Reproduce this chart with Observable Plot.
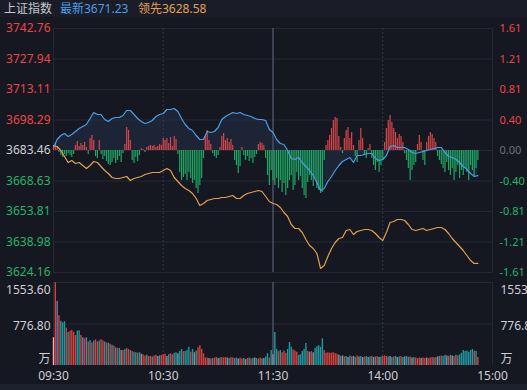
<!DOCTYPE html>
<html><head><meta charset="utf-8">
<script src="https://cdn.jsdelivr.net/npm/d3@7"></script>
<script src="https://cdn.jsdelivr.net/npm/@observablehq/plot@0.6"></script>
<style>
body{margin:0;background:#151821;}
#wrap{position:relative;width:527px;height:390px;background:#151821;overflow:hidden;font-family:"Noto Sans","Noto Sans CJK SC",sans-serif;}
#hdr{position:absolute;left:0;top:0;width:527px;height:17px;background:#1a1d28;font-size:12px;line-height:17px;white-space:nowrap;}
#hdr span{position:absolute;top:0;}
#main,#vol{position:absolute;left:0;}
#main{top:0;} #vol{top:275px;}
#foot{position:absolute;left:0;top:384px;width:527px;height:6px;background:#1d212d;}
</style></head>
<body><div id="wrap">
<div id="hdr"></div>
<div id="main"></div>
<div id="vol"></div>
<div id="foot"></div>
</div>
<script>
// ---- data ----
const indexName = "上证指数";
const latestLabel = "最新", leadLabel = "领先";
const latestValue = "3671.23", leadValue = "3628.58";
const prevClose = 3683.46;
const priceTicks = [3742.76, 3727.94, 3713.11, 3698.29, 3683.46, 3668.63, 3653.81, 3638.98, 3624.16];
const priceTickLabels = ["3742.76","3727.94","3713.11","3698.29","3683.46","3668.63","3653.81","3638.98","3624.16"];
const pctTickLabels = ["1.61","1.21","0.81","0.40","0.00","-0.40","-0.81","-1.21","-1.61"];
const volTicks = [1553.6, 776.8, 0];
const volTickLabels = ["1553.60", "776.80", "万"];
const timeTicks = [0, 60, 120, 180, 240];
const timeLabels = ["09:30", "10:30", "11:30", "14:00", "15:00"];

// price (blue) and lead (orange), every 2 minutes from 09:30
const price = [
3684.92,3688.80,3690.75,3691.72,3690.26,3691.24,3692.69,3694.15,3695.12,3696.10,
3699.01,3701.93,3700.96,3700.96,3698.53,3697.55,3699.01,3699.50,3699.50,3700.47,
3702.90,3702.90,3700.96,3699.01,3697.55,3696.58,3697.07,3698.04,3699.99,3700.96,
3701.44,3703.39,3703.39,3703.87,3702.42,3699.01,3696.10,3694.15,3693.18,3690.75,
3688.80,3688.80,3692.69,3692.21,3692.69,3694.64,3698.53,3699.99,3700.96,3701.93,
3701.44,3701.93,3700.96,3700.47,3699.99,3699.01,3698.53,3698.53,3698.04,3693.67,
3692.21,3688.80,3686.86,3686.37,3683.46,3679.57,3679.09,3680.06,3677.63,3675.68,
3673.74,3671.31,3667.91,3664.02,3664.99,3668.39,3670.82,3673.74,3676.17,3678.11,
3679.09,3680.06,3677.63,3681.03,3681.03,3681.52,3682.00,3682.00,3679.57,3678.60,
3679.09,3681.03,3685.40,3685.89,3684.92,3684.92,3684.92,3683.95,3682.49,3682.00,
3682.49,3682.97,3683.46,3683.95,3684.43,3684.92,3684.92,3682.49,3680.54,3680.06,
3679.09,3677.63,3675.68,3674.22,3672.28,3670.82,3671.23];
const lead = [
3685.89,3685.40,3683.46,3680.54,3677.63,3678.60,3677.14,3677.63,3676.17,3674.71,
3676.17,3678.11,3677.63,3675.68,3673.74,3672.28,3670.33,3669.85,3669.85,3670.33,
3670.82,3668.88,3669.85,3670.33,3670.82,3671.79,3672.28,3672.76,3672.76,3672.76,
3673.74,3674.71,3673.74,3670.33,3668.39,3666.44,3664.99,3664.02,3662.56,3660.13,
3656.72,3657.70,3659.15,3659.64,3660.13,3660.13,3660.61,3660.61,3661.10,3661.58,
3660.13,3660.13,3661.58,3662.56,3663.04,3663.53,3664.02,3663.53,3661.10,3658.67,
3657.70,3657.21,3655.75,3653.32,3651.38,3647.49,3645.54,3645.54,3643.60,3640.20,
3637.29,3635.82,3633.40,3626.10,3627.56,3631.93,3635.82,3638.74,3640.68,3641.17,
3644.57,3645.06,3642.63,3644.09,3644.57,3645.06,3645.06,3644.57,3643.11,3641.17,
3639.71,3643.60,3648.46,3648.95,3649.92,3649.92,3649.44,3647.49,3645.06,3644.57,
3645.06,3645.54,3644.57,3645.06,3645.54,3646.03,3646.03,3645.06,3643.11,3640.68,
3638.74,3636.80,3634.85,3632.42,3630.00,3628.53,3628.58];

// per-minute buy/sell strength bars (units)
const flow = [
4,7,3,-2,-5,-7,-4,-6,-3,-5,
-7,-4,5,9,4,7,5,8,3,-4,
12,15,10,-6,-8,10,-4,-9,-6,-11,
-14,-15,-12,-8,-13,-10,-6,-12,-3,6,
23,20,10,-10,-13,-7,-11,-5,2,1,
-2,3,4,5,4,5,3,4,6,5,
12,10,12,7,13,4,14,11,-4,-22,
-30,-27,-24,-30,-22,-28,-33,-30,-38,-43,
-35,-28,-8,14,20,10,6,-3,-6,-8,
-5,3,14,17,10,12,8,11,5,-10,
-15,-23,-16,3,-5,-10,-6,-11,-8,-13,
-7,-4,6,8,7,5,-8,-25,-35,-20,
-30,-35,-28,-38,-30,-42,-33,-45,-38,-30,
-25,-40,-35,-22,-30,-26,-38,-45,-48,-32,
-25,-30,-36,-28,-38,-40,-43,-42,-10,5,
10,15,22,30,33,32,14,3,-3,12,
20,23,12,18,5,-6,-12,10,22,12,
-4,-8,2,6,-8,-15,-20,-12,-22,-15,
-10,8,22,30,35,28,22,18,12,16,
14,8,-3,-10,-18,-30,-20,-15,-12,6,
15,8,-10,-15,8,14,18,16,12,8,
-6,-10,-14,-18,-22,-12,-20,-25,-18,-30,
-22,-15,-28,-20,-25,-18,-22,-30,-15,-20,
-26,-18,-10];
const flowScale = 0.486; // index points per flow unit

// per-minute volume (万) and bar colour code
const volume = [
520,1550,1200,930,830,800,820,700,620,640,
660,620,560,640,650,560,520,500,520,440,
470,420,460,480,440,460,480,460,440,420,
420,400,380,360,330,320,320,280,280,300,
320,300,280,260,250,240,230,240,210,200,
180,190,170,170,160,180,190,170,180,190,
200,210,170,200,220,200,230,240,220,260,
300,260,260,280,340,250,300,240,270,330,
370,300,220,140,140,130,120,130,140,150,
130,140,150,140,150,140,130,150,140,130,
140,120,140,120,130,110,130,140,120,130,
140,130,120,140,120,130,160,220,140,280,
200,620,300,260,280,240,270,230,300,430,
340,290,270,250,190,200,260,300,410,260,
250,260,240,320,350,370,340,500,280,230,
240,230,230,240,220,210,190,170,180,160,
170,150,180,160,170,150,180,160,170,150,
160,170,150,160,170,150,160,170,150,160,
170,180,170,160,170,150,160,170,150,160,
170,150,160,170,150,160,140,150,140,130,
140,130,140,130,140,130,140,150,140,150,
160,170,180,170,190,180,170,190,180,170,
190,180,200,230,280,260,270,250,280,300,
270,260,150];
const volumeColorCodes =
 "prbrtttrtr"+"rrrttrbrtr"+"trtrrtrrtr"+"trtrtrtgrt"+"rrtrttrtgr"+
 "rtrrtrrgtr"+"rrgtrrttgt"+"trtttrtgtr"+"rrrrrgrtrr"+"gtrrrgtrrt"+
 "tgrrtgrtrt"+"gtrrtgttrt"+"gttrtrrrtt"+"trrrtttttr"+"grgtttttrr"+
 "rrrrrrgtgr"+"tgtrgtrgtg"+"rtgtrgtrgt"+"rrrtgtrtgt"+"rtgttrgtrr"+
 "rgrrgrrrtr"+"gtrttgrtgr"+"trtttttttt"+"rtr";

// ---- styles ----
const C = {
  blue:"#4a9fe6", orange:"#e0a152", red:"#ec4548", green:"#27b36b", grey:"#cfcfd4",
  flowUp:"#d9464a", flowDown:"#1fa764",
  grid:"#242834", gridV:"#353947", sep:"#4d5266",
  vol:{r:"#d6403f", t:"#1d9aa1", g:"#8e8f9c", p:"#e9b8b8", b:"#6d7db0"}
};
const font = '"Noto Sans","Noto Sans CJK SC",sans-serif';

// header
const hdr = document.getElementById("hdr");
[[indexName, 4, "#c6c7cc"], [latestLabel + latestValue, 60, C.blue], [leadLabel + leadValue, 138, C.orange]]
  .forEach(([t, l, c]) => { const s = document.createElement("span"); s.textContent = t; s.style.left = l + "px"; s.style.color = c; hdr.appendChild(s); });

const minutes2 = d3.range(0, 233, 2);
const priceData = price.map((v, i) => ({m: minutes2[i], v}));
const leadData = lead.map((v, i) => ({m: minutes2[i], v}));
const flowData = flow.map((f, i) => ({m: i, f}));
const volData = volume.map((v, i) => ({m: i, v, c: volumeColorCodes[i]}));
const priceTickData = priceTicks.map((v, i) => ({v, l: priceTickLabels[i], p: pctTickLabels[i],
  c: v > prevClose ? C.red : v < prevClose ? C.green : C.grey}));

const gridMarks = [
  Plot.ruleX([0, 240], {stroke: C.grid, strokeWidth: 1}),
  Plot.ruleX([60, 180], {stroke: C.gridV, strokeDasharray: "2,2"}),
  Plot.ruleX([120], {stroke: C.sep, strokeWidth: 1.5})
];

const main = Plot.plot({
  width: 527, height: 280,
  marginTop: 28, marginBottom: 8, marginLeft: 53, marginRight: 35,
  x: {domain: [0, 240], axis: null},
  y: {domain: [3624.16, 3742.76], axis: null},
  color: {type: "identity"},
  style: {background: "transparent", overflow: "visible", fontFamily: font},
  marks: [
    Plot.ruleY(priceTicks, {stroke: C.grid, strokeWidth: 1}),
    ...gridMarks,
    Plot.areaY(priceData, {x: "m", y1: () => prevClose, y2: "v", fill: "#2d4166", fillOpacity: 0.3}),
    Plot.ruleX(flowData, {x: "m", y1: () => prevClose, y2: d => prevClose + d.f * flowScale,
      stroke: d => d.f >= 0 ? C.flowUp : C.flowDown, strokeWidth: 1.2}),
    Plot.lineY(leadData, {x: "m", y: "v", stroke: C.orange, strokeWidth: 1.2}),
    Plot.lineY(priceData, {x: "m", y: "v", stroke: C.blue, strokeWidth: 1.2}),
    Plot.text(priceTickData, {y: "v", text: "l", fill: "c", frameAnchor: "left", textAnchor: "end", dx: -3, fontSize: 12}),
    Plot.text(priceTickData, {y: "v", text: "p", fill: d => d.v === prevClose ? "#6c6f7a" : d.c, frameAnchor: "right", textAnchor: "start", dx: 7, fontSize: 11})
  ]
});
document.getElementById("main").appendChild(main);

const volTickData = volTicks.map((v, i) => ({v, l: volTickLabels[i]}));
const vol = Plot.plot({
  width: 527, height: 115,
  marginTop: 7, marginBottom: 25, marginLeft: 53, marginRight: 35,
  x: {domain: [0, 240], axis: null},
  y: {domain: [0, 1553.6], axis: null},
  color: {type: "identity"},
  style: {background: "transparent", overflow: "visible", fontFamily: font},
  marks: [
    Plot.ruleY([1553.6, 776.8], {stroke: C.grid}),
    ...gridMarks,
    Plot.ruleX(volData, {x: "m", y1: () => 0, y2: "v", stroke: d => C.vol[d.c], strokeWidth: 1.4}),
    Plot.text([volTickData[0]], {y: "v", text: "l", fill: C.grey, frameAnchor: "left", textAnchor: "end", dx: -3, dy: 8, fontSize: 12}),
    Plot.text([volTickData[1]], {y: "v", text: "l", fill: C.grey, frameAnchor: "left", textAnchor: "end", dx: -3, dy: 2, fontSize: 12}),
    Plot.text([volTickData[2]], {y: "v", text: "l", fill: C.grey, frameAnchor: "left", textAnchor: "end", dx: -3, dy: -6, fontSize: 12}),
    Plot.text([volTickData[0]], {y: "v", text: "l", fill: C.grey, frameAnchor: "right", textAnchor: "start", dx: 8, dy: 8, fontSize: 12}),
    Plot.text([volTickData[1]], {y: "v", text: "l", fill: C.grey, frameAnchor: "right", textAnchor: "start", dx: 8, dy: 2, fontSize: 12}),
    Plot.text([volTickData[2]], {y: "v", text: "l", fill: C.grey, frameAnchor: "right", textAnchor: "start", dx: 8, dy: -6, fontSize: 12}),
    Plot.text(timeTicks, {x: d => d, text: (d, i) => timeLabels[i], fill: C.grey, frameAnchor: "bottom", dy: 14, fontSize: 12})
  ]
});
document.getElementById("vol").appendChild(vol);
</script>
</body></html>
